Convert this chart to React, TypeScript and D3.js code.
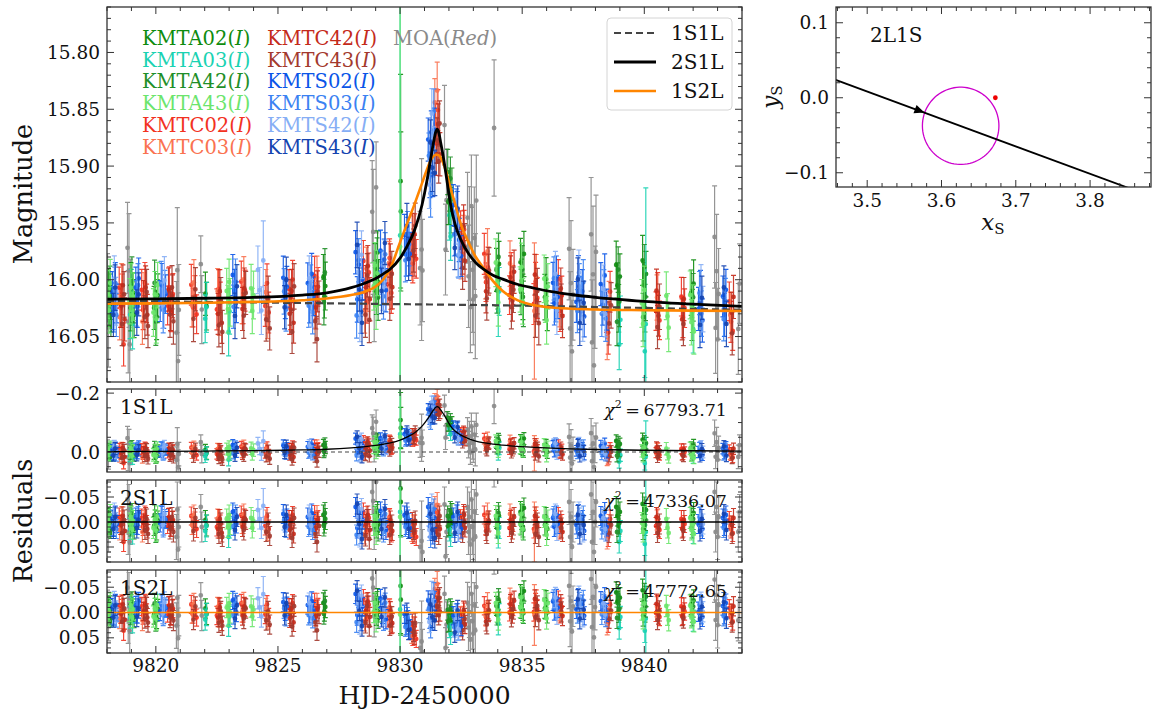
import React from 'react';
import * as d3 from 'd3';

// ---------------- model light curves (magnitudes) ----------------
const modelT = [9818, 9820, 9822, 9824, 9826, 9827, 9828, 9828.5, 9829, 9829.3, 9829.6, 9830, 9830.3, 9830.6, 9830.9, 9831.1, 9831.25, 9831.38, 9831.46, 9831.52, 9831.58, 9831.66, 9831.77, 9831.9, 9832.06, 9832.25, 9832.47, 9832.8, 9833.1, 9833.4, 9833.8, 9834.2, 9834.8, 9835.5, 9836.2, 9837, 9838, 9840, 9842, 9844];
const model2S1L = [16.017, 16.0168, 16.0163, 16.0155, 16.0135, 16.0115, 16.007, 16.0035, 15.999, 15.995, 15.9905, 15.981, 15.97, 15.956, 15.934, 15.913, 15.894, 15.878, 15.87, 15.8675, 15.87, 15.879, 15.892, 15.91, 15.933, 15.951, 15.964, 15.977, 15.985, 15.9905, 15.996, 15.9995, 16.004, 16.0075, 16.0105, 16.013, 16.0155, 16.019, 16.0215, 16.0235];
const model1S2L = [16.021, 16.0208, 16.0203, 16.0195, 16.018, 16.0165, 16.0135, 16.011, 16.006, 16.0, 15.99, 15.967, 15.95, 15.933, 15.915, 15.903, 15.895, 15.891, 15.89, 15.89, 15.8905, 15.8925, 15.8975, 15.906, 15.919, 15.933, 15.95, 15.967, 15.98, 15.989, 16.001, 16.01, 16.018, 16.0225, 16.0245, 16.0255, 16.0262, 16.0268, 16.0272, 16.0275];
const model1S1L_T = [9818, 9822, 9826, 9830, 9834, 9838, 9844];
const model1S1L = [16.0185, 16.0195, 16.0205, 16.0215, 16.0225, 16.024, 16.0265];

const modelNames = ['1S1L', '2S1L', '1S2L'];
const chi2Values = ['67793.71', '47336.07', '47772.65'];

// ---------------- photometry: [HJD-2450000, residual to 2S1L (mmag), error (mmag)] ----------------
const KMTA02 = [[9818.06,-8,19],[9818.10,6,18],[9818.14,-2,20],[9818.18,10,19],[9818.98,-12,20],[9819.03,4,19],[9819.07,-5,18],[9819.11,14,20],[9819.93,8,19],[9819.98,-6,18],[9820.03,16,20],[9820.08,-3,19],[9822.03,-4,19],[9822.08,7,21],[9826.86,-14,20],[9826.90,3,19],[9826.94,-6,21],[9828.98,-10,21],[9829.03,12,20],[9829.08,-22,19],[9829.12,5,20],[9830.02,-67,94],[9830.03,-40,70],[9831.98,10,20],[9832.03,-8,19],[9832.08,4,20],[9832.12,-16,21],[9833.95,-6,19],[9834.00,8,20],[9834.05,-12,20],[9834.93,-20,21],[9834.98,-4,19],[9835.03,10,20],[9835.07,-28,20],[9835.93,6,20],[9835.98,-10,19],[9836.03,14,21],[9838.85,-30,21],[9838.90,-12,20],[9838.95,8,21],[9839.00,-20,20],[9839.93,-36,22],[9839.98,-14,20],[9840.03,6,21],[9840.07,-24,20],[9841.92,-10,20],[9841.97,6,19],[9842.02,-18,21]];
const KMTA03 = [[9818.95,14,21],[9819.00,-6,20],[9819.05,22,22],[9822.02,18,21],[9822.07,8,22],[9822.98,30,21],[9823.02,12,20],[9830.00,-20,300],[9832.02,16,22],[9832.07,28,21],[9834.02,30,22],[9834.06,12,21],[9838.97,40,22],[9839.02,18,21],[9840.02,44,23],[9840.06,20,120],[9842.00,22,21]];
const KMTA42 = [[9818.07,4,20],[9818.12,-10,19],[9818.16,12,21],[9818.97,8,20],[9819.02,-16,21],[9819.09,2,19],[9819.95,-14,20],[9820.00,20,21],[9820.06,2,19],[9826.88,8,20],[9826.92,-18,21],[9829.00,4,20],[9829.06,-14,21],[9829.10,18,20],[9831.95,-12,20],[9832.00,6,21],[9832.06,-22,19],[9833.97,12,20],[9834.03,-18,21],[9834.95,6,20],[9835.00,-14,21],[9835.05,16,20],[9838.88,20,21],[9838.93,-26,20],[9838.98,2,22],[9839.95,14,21],[9840.00,-30,20],[9840.05,-4,21],[9841.95,12,20],[9842.00,-6,21]];
const KMTA43 = [[9818.02,-4,21],[9818.08,10,20],[9818.13,-14,21],[9818.93,2,20],[9818.98,-10,21],[9819.03,14,20],[9819.08,-2,21],[9819.90,12,21],[9819.96,-4,20],[9820.02,18,21],[9820.07,-12,20],[9822.90,-6,20],[9822.95,10,21],[9823.00,-14,20],[9823.04,4,21],[9823.90,-8,21],[9823.95,12,20],[9824.00,-2,21],[9828.92,6,21],[9828.97,-12,20],[9829.02,24,21],[9829.07,-4,20],[9830.00,-10,250],[9833.92,-12,21],[9833.97,6,20],[9834.02,22,21],[9834.92,4,20],[9834.97,-16,21],[9835.02,14,20],[9835.90,-10,21],[9835.95,8,20],[9836.00,26,21],[9836.05,-4,20],[9839.90,2,21],[9839.95,20,20],[9840.00,-10,21],[9840.90,-6,21],[9840.95,12,20],[9841.00,22,21],[9841.88,-8,21],[9841.93,16,20],[9841.98,4,21],[9842.03,24,20]];
const KMTC02 = [[9818.50,-10,18],[9818.56,8,17],[9818.62,-4,18],[9818.68,40,19],[9819.42,-8,18],[9819.48,10,17],[9819.55,-14,18],[9819.62,4,17],[9820.48,6,17],[9820.55,-10,18],[9820.62,12,17],[9820.70,-4,18],[9821.45,-12,18],[9821.52,8,17],[9821.60,-2,18],[9821.67,14,17],[9822.50,10,18],[9822.57,-8,17],[9822.64,4,18],[9823.50,-14,18],[9823.57,6,17],[9823.65,-6,18],[9824.48,8,18],[9824.55,-12,17],[9824.62,14,18],[9825.45,-6,17],[9825.52,12,18],[9825.60,-14,17],[9826.50,-16,17],[9826.57,4,18],[9826.64,-6,17],[9828.50,-20,18],[9828.57,8,17],[9828.64,18,18],[9828.72,-8,17],[9829.50,12,18],[9829.57,-10,17],[9829.64,22,18],[9830.45,14,18],[9830.52,26,17],[9830.60,4,18],[9830.66,30,17],[9831.45,-8,18],[9831.50,12,17],[9831.55,-18,18],[9832.48,-8,17],[9832.55,10,18],[9832.62,-14,17],[9833.45,-14,18],[9833.52,10,17],[9833.60,-4,18],[9834.48,12,17],[9834.55,-8,18],[9834.62,2,17],[9835.48,14,18],[9835.55,-6,17],[9835.62,8,18],[9836.48,-12,17],[9836.55,16,18],[9836.62,2,17],[9838.45,12,18],[9838.52,30,19],[9838.60,-6,18],[9840.48,8,17],[9840.55,-8,18],[9840.62,16,17],[9841.52,-6,17],[9841.58,12,18],[9841.65,4,17],[9843.48,-4,17],[9843.55,14,18],[9843.62,22,17]];
const KMTC03 = [[9818.52,16,20],[9818.60,-12,19],[9819.45,20,20],[9819.52,-4,19],[9821.48,6,19],[9821.56,-14,20],[9822.53,-6,20],[9822.60,14,19],[9823.53,4,19],[9823.60,-16,20],[9824.50,-4,20],[9824.58,18,19],[9826.52,10,20],[9826.60,-14,19],[9828.55,24,20],[9828.62,-12,19],[9828.68,6,20],[9829.55,-6,19],[9829.62,16,20],[9830.48,20,19],[9830.56,6,20],[9831.42,-30,21],[9831.48,8,20],[9831.52,-34,25],[9832.50,14,20],[9832.58,-6,19],[9833.50,6,19],[9833.58,-18,20],[9834.50,-16,20],[9834.58,4,19],[9835.50,20,60],[9835.58,-10,20],[9836.52,10,20],[9838.48,34,20],[9838.56,4,19],[9840.52,-4,20],[9843.52,8,20]];
const KMTC42 = [[9818.58,6,19],[9818.65,-12,18],[9818.72,18,19],[9819.50,2,18],[9819.58,-10,19],[9819.65,14,18],[9820.52,-8,19],[9820.60,10,18],[9820.68,-2,19],[9822.55,14,18],[9822.62,-6,19],[9822.70,22,18],[9823.55,10,19],[9823.62,-8,18],[9825.48,16,18],[9825.56,-4,19],[9825.64,24,18],[9826.55,12,19],[9826.62,-2,18],[9828.60,4,19],[9828.68,-14,18],[9828.76,16,19],[9829.60,-4,18],[9829.68,18,19],[9830.50,0,19],[9830.58,22,18],[9831.48,20,19],[9831.56,-6,18],[9831.63,14,19],[9832.52,6,18],[9832.60,-16,19],[9832.66,12,18],[9833.52,18,19],[9833.62,2,18],[9834.52,-4,19],[9834.60,16,18],[9834.67,-10,19],[9835.52,-12,18],[9835.60,10,19],[9836.58,-4,18],[9836.65,20,19],[9840.50,-10,19],[9840.58,12,18],[9841.55,14,18],[9841.62,-4,19],[9843.58,6,18],[9843.65,-8,19]];
const KMTC43 = [[9818.62,22,19],[9818.70,-4,20],[9819.55,16,19],[9819.62,-6,20],[9819.68,24,19],[9820.58,14,20],[9820.66,-10,19],[9820.72,20,20],[9821.54,18,20],[9821.62,-8,19],[9822.58,24,19],[9822.66,2,20],[9822.72,30,19],[9823.60,16,20],[9823.68,-4,19],[9824.52,20,19],[9824.60,2,20],[9824.66,28,19],[9825.50,6,20],[9825.58,32,19],[9825.66,-8,20],[9826.52,24,19],[9826.60,40,20],[9826.68,8,19],[9828.58,28,20],[9828.66,-6,19],[9828.74,34,20],[9829.58,26,19],[9829.66,6,20],[9830.55,16,19],[9830.62,-2,20],[9831.52,10,20],[9831.58,26,19],[9831.62,-12,20],[9832.56,22,19],[9832.64,0,20],[9833.55,24,19],[9833.64,-2,20],[9834.56,22,19],[9834.64,6,20],[9835.54,24,19],[9835.62,2,20],[9835.68,30,19],[9836.60,12,20],[9838.56,22,19],[9838.64,6,20],[9840.54,22,19],[9840.62,4,20],[9841.60,18,19],[9843.60,24,19]];
const KMTS02 = [[9818.22,-6,18],[9818.28,10,19],[9818.34,-14,18],[9818.40,4,17],[9819.18,-10,18],[9819.24,6,19],[9819.30,-18,18],[9820.18,2,18],[9820.25,-12,19],[9820.32,8,18],[9820.40,-4,17],[9823.15,-20,18],[9823.22,-6,19],[9823.30,4,18],[9825.22,-16,19],[9825.30,2,18],[9825.36,-8,18],[9826.22,-10,18],[9826.30,6,19],[9826.38,-18,18],[9826.45,2,17],[9828.18,-30,19],[9828.25,12,20],[9828.32,-18,18],[9828.40,24,19],[9828.46,-4,18],[9829.20,-22,18],[9829.28,8,19],[9829.35,-12,18],[9829.42,16,19],[9830.18,-14,18],[9830.25,6,19],[9830.32,-6,18],[9830.40,12,19],[9831.15,-30,19],[9831.22,10,20],[9831.28,-20,19],[9831.34,24,20],[9831.40,-8,19],[9832.18,-10,18],[9832.26,8,19],[9832.34,-16,18],[9832.42,4,19],[9832.50,14,18],[9836.26,-8,18],[9836.32,10,19],[9836.40,-14,18],[9836.46,4,19],[9837.22,6,18],[9837.30,-16,19],[9837.38,12,18],[9837.46,-4,19],[9837.54,18,18],[9838.22,-12,19],[9838.30,6,18],[9838.38,-20,19],[9838.46,10,18],[9842.22,4,19],[9842.30,-12,18],[9842.38,14,19],[9843.22,-8,18],[9843.28,8,19],[9843.34,-14,18]];
const KMTS03 = [[9818.25,8,19],[9818.32,-8,20],[9818.38,14,19],[9819.20,4,20],[9819.27,-12,19],[9820.22,-14,19],[9820.30,10,20],[9820.37,-6,19],[9823.18,8,19],[9823.26,-14,20],[9825.25,-4,20],[9825.33,12,19],[9826.26,10,19],[9826.34,-6,20],[9826.42,16,19],[9828.22,26,20],[9828.30,-22,19],[9828.37,8,20],[9829.25,-2,19],[9829.32,20,20],[9829.39,-16,19],[9830.22,10,19],[9830.30,-10,20],[9830.37,2,19],[9831.18,-12,20],[9831.25,30,21],[9831.32,4,20],[9831.38,-26,20],[9832.22,12,19],[9832.30,-14,20],[9832.38,20,19],[9836.30,-12,19],[9836.38,6,20],[9837.26,14,19],[9837.34,-8,20],[9837.42,2,19],[9837.50,-12,20],[9838.26,14,20],[9838.34,-6,19],[9838.42,18,20],[9842.26,-10,19],[9842.34,8,20],[9843.25,12,19],[9843.32,-4,20]];
const KMTS42 = [[9818.30,-18,20],[9818.36,2,21],[9820.28,6,20],[9820.35,-16,21],[9824.18,-24,21],[9824.25,-6,20],[9824.32,12,21],[9824.40,-32,35],[9826.28,-14,20],[9826.36,8,21],[9828.28,-12,21],[9828.35,30,20],[9828.42,-26,21],[9829.30,12,20],[9829.37,-8,21],[9831.20,16,21],[9831.30,-34,22],[9831.36,6,21],[9832.28,-4,20],[9832.40,18,21],[9836.36,-16,20],[9836.42,16,21],[9837.32,-20,20],[9837.40,8,21],[9837.48,20,20],[9838.32,-8,21],[9838.40,14,20],[9842.32,-14,21],[9842.40,4,20]];
const KMTS43 = [[9818.26,14,19],[9818.33,-10,20],[9819.22,12,20],[9819.30,-4,19],[9823.24,16,20],[9823.32,-10,19],[9825.27,10,19],[9825.34,-14,20],[9828.24,-36,20],[9828.33,4,19],[9828.44,34,20],[9829.24,14,20],[9829.38,-26,19],[9830.28,-18,20],[9830.35,14,19],[9831.24,-16,20],[9831.32,16,21],[9831.42,32,20],[9832.24,22,19],[9832.36,-20,20],[9837.28,-14,19],[9837.36,24,20],[9837.52,6,19],[9842.28,18,20],[9842.36,-6,19],[9843.26,-16,19],[9843.36,16,20]];
const MOA = [[9818.02,-10,30],[9818.06,25,35],[9818.84,-45,40],[9818.87,20,45],[9818.90,-25,50],[9818.93,40,55],[9818.96,5,40],[9820.84,30,45],[9820.88,-25,55],[9820.91,55,60],[9820.94,10,40],[9821.84,-30,25],[9821.88,10,30],[9828.86,-60,45],[9828.90,-42,55],[9828.94,15,40],[9829.02,-80,40],[9830.82,50,50],[9830.88,38,80],[9830.92,60,45],[9831.82,-35,35],[9831.86,69,40],[9831.90,20,45],[9832.76,-30,40],[9832.80,20,45],[9832.84,-10,50],[9832.88,45,40],[9832.92,-45,45],[9832.96,10,55],[9833.00,35,40],[9833.04,-20,45],[9833.08,30,55],[9833.12,-55,40],[9833.85,-130,60],[9836.92,-40,45],[9836.96,30,50],[9837.00,-10,55],[9837.04,50,45],[9837.08,0,40],[9837.82,-55,50],[9837.86,40,55],[9837.90,-20,60],[9837.94,60,50],[9837.98,0,45],[9838.02,-40,50],[9842.88,-60,45],[9842.92,20,40],[9842.96,-30,50],[9843.00,30,45],[9843.04,-10,40],[9843.85,20,40],[9843.90,-20,35]];

// ---------------- inset: source trajectory ----------------
const trajX = [3.44, 3.87];
const trajY = [0.0303, -0.127];
const arrowX = 3.577;
const sourceCenter = [3.6258, -0.0374];
const sourceRadius = 0.0515;
const causticX = [3.6725];
const causticY = [0.0];

const FONT = "'DejaVu Serif', serif";

const SETS = [
  { label: 'KMTA02', color: '#0e8c0e', pts: KMTA02 },
  { label: 'KMTA03', color: '#1ad2b2', pts: KMTA03 },
  { label: 'KMTA42', color: '#1f8f28', pts: KMTA42 },
  { label: 'KMTA43', color: '#6ce56c', pts: KMTA43 },
  { label: 'KMTC02', color: '#f2321f', pts: KMTC02 },
  { label: 'KMTC03', color: '#fa7250', pts: KMTC03 },
  { label: 'KMTC42', color: '#c42a1a', pts: KMTC42 },
  { label: 'KMTC43', color: '#a3392d', pts: KMTC43 },
  { label: 'KMTS02', color: '#0a55e8', pts: KMTS02 },
  { label: 'KMTS03', color: '#3b82f2', pts: KMTS03 },
  { label: 'KMTS42', color: '#86aef5', pts: KMTS42 },
  { label: 'KMTS43', color: '#1444b0', pts: KMTS43 },
];
const MOA_COLOR = '#8a8a8a';

function interp(ts: number[], ms: number[]) {
  return (t: number) => {
    const i = d3.bisectRight(ts, t);
    if (i <= 0) return ms[0];
    if (i >= ts.length) return ms[ms.length - 1];
    const f = (t - ts[i - 1]) / (ts[i] - ts[i - 1]);
    return ms[i - 1] + f * (ms[i] - ms[i - 1]);
  };
}
const m2 = interp(modelT, model2S1L);
const m3 = interp(modelT, model1S2L);
const m1 = interp(model1S1L_T, model1S1L);

function steps(a: number, b: number, step: number) {
  const lo = Math.min(a, b), hi = Math.max(a, b);
  const out: number[] = [];
  for (let k = Math.ceil(lo / step - 1e-6); k * step <= hi + 1e-9; k++) out.push(+(k * step).toFixed(6));
  return out;
}

function tickPath(xs: any, ys: any, xMaj: number, xMin: number, yMaj: number, yMin: number) {
  const [xa, xb] = xs.range();
  const [ya, yb] = ys.range();
  const left = Math.min(xa, xb), right = Math.max(xa, xb);
  const top = Math.min(ya, yb), bot = Math.max(ya, yb);
  const xd = xs.domain(), yd = ys.domain();
  const isMaj = (v: number, s: number) => Math.abs(v / s - Math.round(v / s)) < 1e-6;
  let p = '';
  for (const v of steps(xd[0], xd[1], xMin)) {
    const L = isMaj(v, xMaj) ? 7 : 4;
    const X = xs(v);
    p += `M${X},${bot}v${-L}M${X},${top}v${L}`;
  }
  for (const v of steps(yd[0], yd[1], yMin)) {
    const L = isMaj(v, yMaj) ? 7 : 4;
    const Y = ys(v);
    p += `M${left},${Y}h${L}M${right},${Y}h${-L}`;
  }
  return p;
}

const fmtMinus = (s: string) => s.replace('-', '\u2212');

export default function App() {
  const W = 1156, H = 711;
  const x = d3.scaleLinear().domain([9818, 9844]).range([107, 742]);
  const yTop = d3.scaleLinear().domain([15.76, 16.09]).range([7, 382]);
  const yR1 = d3.scaleLinear().domain([-0.214, 0.068]).range([389, 472]);
  const yR2 = d3.scaleLinear().domain([-0.084, 0.08]).range([480, 562]);
  const yR3 = d3.scaleLinear().domain([-0.084, 0.08]).range([570, 653]);
  const xi = d3.scaleLinear().domain([3.458, 3.882]).range([836, 1151]);
  const yi = d3.scaleLinear().domain([0.121, -0.119]).range([7, 187]);

  const panels = [
    { id: 'p0', y: yTop, f: (t: number, r: number) => m2(t) + r },
    { id: 'p1', y: yR1, f: (t: number, r: number) => m2(t) + r - m1(t) },
    { id: 'p2', y: yR2, f: (_t: number, r: number) => r },
    { id: 'p3', y: yR3, f: (t: number, r: number) => m2(t) + r - m3(t) },
  ];

  const marks = (pts: number[][], ys: any, f: any) => {
    let eb = '', mk = '';
    for (const [t, rm, em] of pts) {
      const r = rm / 1000, e = em / 1000;
      const X = x(t);
      const v = f(t, r);
      const Y = ys(v), Ya = ys(v - e), Yb = ys(v + e);
      eb += `M${X.toFixed(1)},${Ya.toFixed(1)}V${Yb.toFixed(1)}M${(X - 2.5).toFixed(1)},${Ya.toFixed(1)}h5M${(X - 2.5).toFixed(1)},${Yb.toFixed(1)}h5`;
      mk += `M${(X - 2.4).toFixed(1)},${Y.toFixed(1)}a2.4,2.4 0 1,0 4.8,0a2.4,2.4 0 1,0 -4.8,0`;
    }
    return { eb, mk };
  };

  const lineTop = d3.line<number>().x((_, i) => x(modelT[i])).y(d => yTop(d)).curve(d3.curveMonotoneX);
  const line1S1L = d3.line<number>().x((_, i) => x(model1S1L_T[i])).y(d => yTop(d)).curve(d3.curveMonotoneX);
  const lineR1 = d3.line<number>().x(t => x(t)).y(t => yR1(m2(t) - m1(t))).curve(d3.curveMonotoneX);

  const frames = [
    { ys: yTop, yMaj: 0.05, yMin: 0.01, labels: [15.8, 15.85, 15.9, 15.95, 16.0, 16.05], fmt: d3.format('.2f') },
    { ys: yR1, yMaj: 0.2, yMin: 0.05, labels: [-0.2, 0.0], fmt: d3.format('.1f') },
    { ys: yR2, yMaj: 0.05, yMin: 0.01, labels: [-0.05, 0.0, 0.05], fmt: d3.format('.2f') },
    { ys: yR3, yMaj: 0.05, yMin: 0.01, labels: [-0.05, 0.0, 0.05], fmt: d3.format('.2f') },
  ];
  const xLabels = [9820, 9825, 9830, 9835, 9840];

  const legendCols = [SETS.slice(0, 6), SETS.slice(6, 12)];
  const legendX = [142, 267];

  const ax = xi(arrowX), ay = yi(trajY[0] + (arrowX - trajX[0]) * (trajY[1] - trajY[0]) / (trajX[1] - trajX[0]));
  const ang = Math.atan2(yi(trajY[1]) - yi(trajY[0]), xi(trajX[1]) - xi(trajX[0]));

  const circlePts = d3.range(0, 361, 4).map(a => [sourceCenter[0] + sourceRadius * Math.cos(a * Math.PI / 180), sourceCenter[1] + sourceRadius * Math.sin(a * Math.PI / 180)]);
  const circlePath = d3.line<number[]>().x(d => xi(d[0])).y(d => yi(d[1]))(circlePts);

  return (
    <svg width={W} height={H} style={{ position: 'absolute', left: 0, top: 0, background: '#fff' }} fontFamily={FONT}>
      <defs>
        {panels.map(p => (
          <clipPath id={'clip' + p.id} key={p.id}>
            <rect x={107} y={Math.min(...p.y.range())} width={635} height={Math.abs(p.y.range()[1] - p.y.range()[0])} />
          </clipPath>
        ))}
        <clipPath id="clipInset"><rect x={836} y={7} width={315} height={180} /></clipPath>
      </defs>
      <rect x={0} y={0} width={W} height={H} fill="#fff" />

      {panels.map((p, pi) => (
        <g key={p.id} clipPath={`url(#clip${p.id})`}>
          {(() => { const m = marks(MOA, p.y, p.f); return (<g><path d={m.eb} stroke={MOA_COLOR} strokeWidth={1.2} fill="none" opacity={0.9} /><path d={m.mk} fill={MOA_COLOR} opacity={0.9} /></g>); })()}
          {SETS.map(s => { const m = marks(s.pts, p.y, p.f); return (<g key={s.label}><path d={m.eb} stroke={s.color} strokeWidth={1.2} fill="none" opacity={0.9} /><path d={m.mk} fill={s.color} opacity={0.9} /></g>); })}
          {pi === 0 && (
            <g fill="none">
              <path d={line1S1L(model1S1L) || ''} stroke="#444" strokeWidth={2.2} strokeDasharray="7,4" />
              <path d={lineTop(model1S2L) || ''} stroke="#ff8500" strokeWidth={2.6} />
              <path d={lineTop(model2S1L) || ''} stroke="#000" strokeWidth={2.8} />
            </g>
          )}
          {pi === 1 && (
            <g fill="none">
              <line x1={107} x2={742} y1={yR1(0)} y2={yR1(0)} stroke="#444" strokeWidth={1.2} strokeDasharray="4,3" />
              <path d={lineR1(modelT) || ''} stroke="#000" strokeWidth={1.3} />
            </g>
          )}
          {pi === 2 && <line x1={107} x2={742} y1={yR2(0)} y2={yR2(0)} stroke="#000" strokeWidth={1.3} />}
          {pi === 3 && <line x1={107} x2={742} y1={yR3(0)} y2={yR3(0)} stroke="#ff8500" strokeWidth={1.6} />}
        </g>
      ))}

      {frames.map((fr, i) => {
        const r = fr.ys.range();
        return (
          <g key={'f' + i}>
            <path d={tickPath(x, fr.ys, 5, 1, fr.yMaj, fr.yMin)} stroke="#333" strokeWidth={1} fill="none" />
            <rect x={107} y={Math.min(...r)} width={635} height={Math.abs(r[1] - r[0])} fill="none" stroke="#333" strokeWidth={1.3} />
            {fr.labels.map(v => (
              <text key={v} x={100} y={fr.ys(v)} dy="0.36em" textAnchor="end" fontSize={18.5} fill="#111">{fmtMinus(fr.fmt(v))}</text>
            ))}
          </g>
        );
      })}
      {xLabels.map(v => (
        <text key={v} x={x(v)} y={672} textAnchor="middle" fontSize={18.5} fill="#111">{v}</text>
      ))}
      <text x={424.5} y={704} textAnchor="middle" fontSize={25} fill="#111">HJD-2450000</text>
      <text transform="translate(32,194) rotate(-90)" textAnchor="middle" fontSize={25.5} fill="#111">Magnitude</text>
      <text transform="translate(32,521) rotate(-90)" textAnchor="middle" fontSize={25.5} fill="#111">Residuals</text>

      {[yR1, yR2, yR3].map((ys, i) => {
        const top = Math.min(...ys.range());
        return (
          <g key={'lab' + i} fontSize={20} fill="#111">
            <text x={120} y={top + 25}>{modelNames[i]}</text>
            <text x={727} y={top + 27} textAnchor="end" fontSize={17.5}>
              <tspan fontStyle="italic">χ</tspan><tspan fontSize={11} dy={-8}>2</tspan><tspan dy={8}>{'\u2009=\u2009' + chi2Values[i]}</tspan>
            </text>
          </g>
        );
      })}

      {legendCols.map((col, ci) => col.map((s, ri) => (
        <text key={s.label} x={legendX[ci]} y={45 + ri * 21.7} fontSize={19.5} fill={s.color}>
          {s.label}(<tspan fontStyle="italic">I</tspan>)
        </text>
      )))}
      <text x={393} y={45} fontSize={19.5} fill={MOA_COLOR}>MOA(<tspan fontStyle="italic">Red</tspan>)</text>

      <rect x={607} y={18} width={125} height={92} rx={4} fill="#fff" fillOpacity={0.85} stroke="#d4d4d4" strokeWidth={1} />
      <line x1={614} x2={656} y1={33} y2={33} stroke="#444" strokeWidth={2.2} strokeDasharray="7,4" />
      <line x1={614} x2={656} y1={62} y2={62} stroke="#000" strokeWidth={2.8} />
      <line x1={614} x2={656} y1={91} y2={91} stroke="#ff8500" strokeWidth={2.6} />
      {modelNames.map((n, i) => (
        <text key={n} x={671} y={33 + i * 29} dy="0.36em" fontSize={20} fill="#111">{n}</text>
      ))}

      <g clipPath="url(#clipInset)">
        <path d={circlePath || ''} fill="none" stroke="#cc00cc" strokeWidth={1.3} />
        <line x1={xi(trajX[0])} y1={yi(trajY[0])} x2={xi(trajX[1])} y2={yi(trajY[1])} stroke="#000" strokeWidth={1.8} />
        <path d="M0,0 L-10,-4.5 L-10,4.5 Z" transform={`translate(${ax},${ay}) rotate(${ang * 180 / Math.PI})`} fill="#000" />
        {causticX.map((cx, i) => <circle key={i} cx={xi(cx)} cy={yi(causticY[i])} r={2.4} fill="#ee0000" />)}
      </g>
      <path d={tickPath(xi, yi, 0.1, 0.02, 0.1, 0.02)} stroke="#333" strokeWidth={1} fill="none" />
      <rect x={836} y={7} width={315} height={180} fill="none" stroke="#333" strokeWidth={1.3} />
      {[3.5, 3.6, 3.7, 3.8].map(v => (
        <text key={v} x={xi(v)} y={207} textAnchor="middle" fontSize={18.5} fill="#111">{v.toFixed(1)}</text>
      ))}
      {[0.1, 0.0, -0.1].map(v => (
        <text key={v} x={829} y={yi(v)} dy="0.36em" textAnchor="end" fontSize={18.5} fill="#111">{fmtMinus(v.toFixed(1))}</text>
      ))}
      <text x={870} y={42} fontSize={20} fill="#111">2L1S</text>
      <text x={993} y={230} textAnchor="middle" fontSize={23} fill="#111"><tspan fontStyle="italic">x</tspan><tspan fontSize={15} dy={4}>S</tspan></text>
      <text transform="translate(778,97) rotate(-90)" textAnchor="middle" fontSize={23} fill="#111"><tspan fontStyle="italic">y</tspan><tspan fontSize={15} dy={4}>S</tspan></text>
    </svg>
  );
}
